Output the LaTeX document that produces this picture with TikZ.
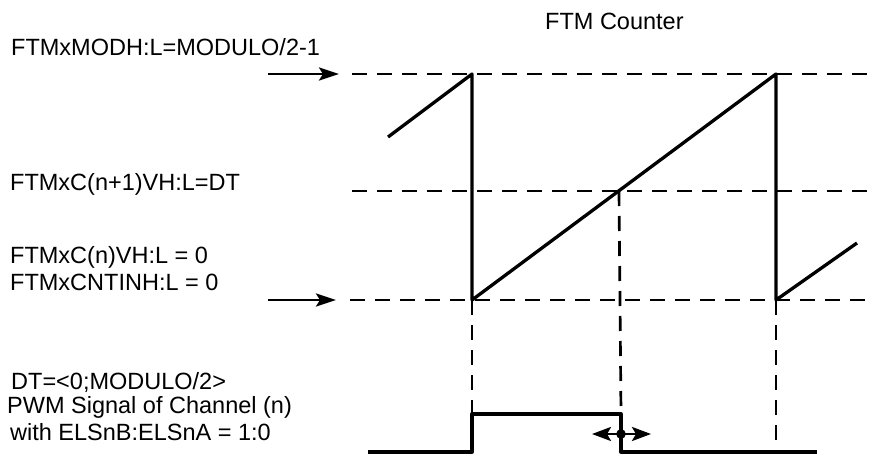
\documentclass[tikz,border=0pt]{standalone}
\usepackage{fontspec}
\setmainfont{Liberation Sans}
\usetikzlibrary{arrows.meta}
\begin{document}
\begin{tikzpicture}[x=1pt,y=-1pt,
  lbl/.style={anchor=base west,inner sep=0pt,font=\fontsize{23.5}{27}\selectfont},
  wave/.style={line width=3.3pt,line join=round},
  guide/.style={line width=2.7pt,dash pattern=on 15pt off 10pt},
  pointer/.style={line width=2.8pt,-{Stealth[length=20pt,width=13pt,inset=4pt]}},
  dtarrow/.style={line width=2.8pt,-{Stealth[length=19pt,width=14pt,inset=4pt]}}]
\useasboundingbox (0,0) rectangle (875,455);
% coordinates
\coordinate (T0) at (352,74);  \coordinate (T1) at (875,74);
\coordinate (M0) at (352,191); \coordinate (M1) at (867,191);
\coordinate (B0) at (350,300); \coordinate (B1) at (875,300);
\coordinate (R0) at (388,137);
\coordinate (P1) at (472,74);  \coordinate (V1) at (472,300);
\coordinate (P2) at (776,74);  \coordinate (V2) at (776,300);
\coordinate (R3) at (857,243);
\coordinate (X) at (619,191);
\coordinate (L0) at (368,452); \coordinate (L1) at (472,452);
\coordinate (H0) at (472,414); \coordinate (H1) at (621,414);
\coordinate (L2) at (621,452); \coordinate (L3) at (817,452);
\coordinate (Xb) at (621,414);
\coordinate (V2b) at (776,446);
\coordinate (A0) at (268,74);  \coordinate (A1) at (339,74);
\coordinate (A2) at (268,300); \coordinate (A3) at (336,300);
\coordinate (D) at (621,434); \coordinate (DL) at (592,434); \coordinate (DR) at (651,434);
% guides
\draw[guide] (T0) -- (T1);
\draw[guide] (M0) -- (M1);
\draw[guide] (B0) -- (B1);
\draw[guide] (V1) -- (H0);
\draw[guide] (X) -- (Xb);
\draw[guide] (V2) -- (V2b);
% counter
\draw[wave] (R0) -- (P1) -- (V1) -- (P2) -- (V2) -- (R3);
% pwm
\draw[wave] (L0) -- (L1) -- (H0) -- (H1) -- (L2) -- (L3);
% pointers
\draw[pointer] (A0) -- (A1);
\draw[pointer] (A2) -- (A3);
\draw[dtarrow] (D) -- (DL);
\draw[dtarrow] (D) -- (DR);
\fill (D) circle (4.8pt);
% labels
\node[lbl] (title) at (545,29) {FTM Counter};
\node[lbl] (modh) at (11,55) {FTMxMODH:L=MODULO/2-1};
\node[lbl] (cn1) at (10,190) {FTMxC(n+1)VH:L=DT};
\node[lbl] (cn) at (10,263) {FTMxC(n)VH:L = 0};
\node[lbl] (cntin) at (10,290) {FTMxCNTINH:L = 0};
\node[lbl] (dt) at (11,389) {DT=<0;MODULO/2>};
\node[lbl] (pwm) at (7,413) {PWM Signal of Channel (n)};
\node[lbl] (els) at (10,440) {with ELSnB:ELSnA = 1:0};
\end{tikzpicture}
\end{document}
